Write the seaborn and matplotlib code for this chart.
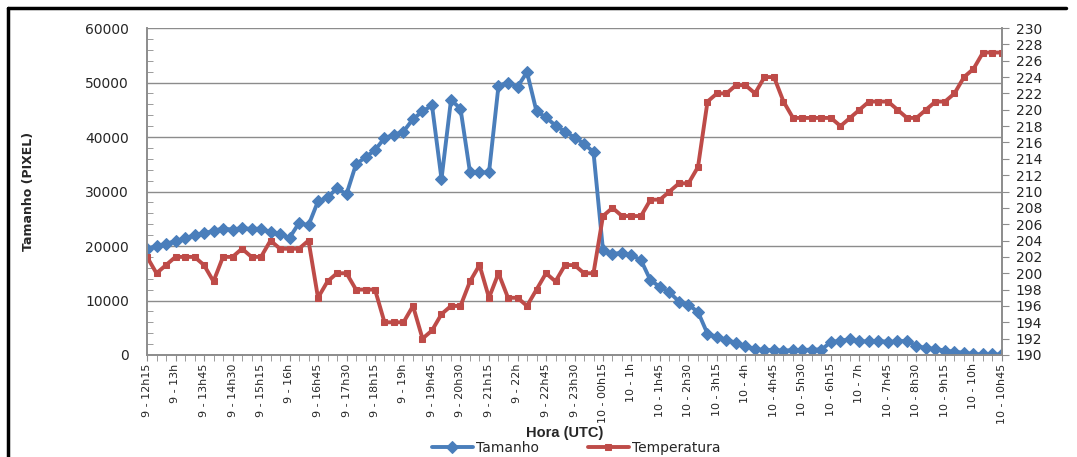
import pandas as pd
import seaborn as sns
import matplotlib.pyplot as plt
import numpy as np
from matplotlib.ticker import MultipleLocator

#data (one point every 15 min, 9-12h15 .. 10-10h45)
tamanho = [19500, 20000, 20400, 20900, 21400, 22000, 22300, 22800, 23200, 23000,
           23300, 23100, 23200, 22500, 22200, 21500, 24200, 23800, 28200, 28900,
           30600, 29500, 35000, 36300, 37600, 39800, 40400, 41000, 43300, 44700,
           45800, 32300, 46800, 45200, 33500, 33500, 33500, 49400, 50000, 49200,
           51900, 44700, 43600, 42100, 41000, 39900, 38800, 37200, 19200, 18500,
           18800, 18300, 17400, 13700, 12500, 11500, 9800, 9200, 7900, 3900,
           3300, 2800, 2200, 1600, 1100, 900, 900, 800, 900, 900,
           1000, 1000, 2400, 2600, 2900, 2500, 2500, 2600, 2400, 2500,
           2600, 1600, 1300, 1100, 800, 600, 400, 200, 100, 100,
           100]
temperatura = [202, 200, 201, 202, 202, 202, 201, 199, 202, 202,
               203, 202, 202, 204, 203, 203, 203, 204, 197, 199,
               200, 200, 198, 198, 198, 194, 194, 194, 196, 192,
               193, 195, 196, 196, 199, 201, 197, 200, 197, 197,
               196, 198, 200, 199, 201, 201, 200, 200, 207, 208,
               207, 207, 207, 209, 209, 210, 211, 211, 213, 221,
               222, 222, 223, 223, 222, 224, 224, 221, 219, 219,
               219, 219, 219, 218, 219, 220, 221, 221, 221, 220,
               219, 219, 220, 221, 221, 222, 224, 225, 227, 227,
               227]
tick_labels = ["9 - 12h15", "9 - 13h", "9 - 13h45", "9 - 14h30", "9 - 15h15", "9 - 16h",
               "9 - 16h45", "9 - 17h30", "9 - 18h15", "9 - 19h", "9 - 19h45", "9 - 20h30",
               "9 - 21h15", "9 - 22h", "9 - 22h45", "9 - 23h30", "10 - 00h15", "10 - 1h",
               "10 - 1h45", "10 - 2h30", "10 - 3h15", "10 - 4h", "10 - 4h45", "10 - 5h30",
               "10 - 6h15", "10 - 7h", "10 - 7h45", "10 - 8h30", "10 - 9h15", "10 - 10h",
               "10 - 10h45"]

df = pd.DataFrame({"pos": np.arange(len(tamanho)), "tamanho": tamanho, "temperatura": temperatura})

blue = "#4a7ebb"
red = "#be4b48"
grid = "#8c8c8c"

sns.set_style("white")
plt.rcParams['font.family'] = ['DejaVu Sans']

fig = plt.figure(figsize=(10.77, 4.57), dpi=100)
ax = fig.add_axes([147/1077, 1-355/457, (1002-147)/1077, (355-28)/457])
ax2 = ax.twinx()

sns.lineplot(data=df, x="pos", y="tamanho", ax=ax, color=blue, linewidth=2.8,
             marker="D", markersize=6, markeredgecolor=blue, label="Tamanho", legend=False)
sns.lineplot(data=df, x="pos", y="temperatura", ax=ax2, color=red, linewidth=2.8,
             marker="s", markersize=4.5, markeredgecolor=red, label="Temperatura", legend=False)

#left axis
ax.set_ylim(0, 60000)
ax.set_yticks(np.arange(0, 60001, 10000))
ax.yaxis.set_minor_locator(MultipleLocator(2000))
ax.grid(axis="y", color=grid, linewidth=1)
ax.set_xlim(0, len(tamanho) - 1)
ax.set_xticks(np.arange(0, len(tamanho), 3))
ax.set_xticklabels(tick_labels, rotation=90, fontsize=8)
ax.xaxis.set_minor_locator(MultipleLocator(1))
ax.tick_params(axis="x", which="both", direction="out", length=4, color=grid, bottom=True, pad=2)
ax.tick_params(axis="y", which="major", labelsize=10, length=0, pad=13)
ax.tick_params(axis="y", which="minor", direction="in", length=4, color=grid, left=True)
ax.set_ylabel("Tamanho (PIXEL)", fontsize=9, fontweight="bold")
ax.yaxis.set_label_coords((35-147)/855, 0.5)
ax.set_xlabel("Hora (UTC)", fontsize=10.5, fontweight="bold", family="Liberation Sans")
ax.xaxis.set_label_coords((565-147)/855, (355-426)/327)

#right axis
ax2.set_ylim(190, 230)
ax2.set_yticks(np.arange(190, 231, 2))
ax2.tick_params(axis="y", direction="out", length=5, color=grid, labelsize=10, pad=5, right=True)
ax2.set_ylabel("")
ax2.grid(False)

for a in (ax, ax2):
    a.spines["top"].set_visible(False)
    for s in ("left", "right", "bottom"):
        a.spines[s].set_color(grid)
        a.spines[s].set_linewidth(1.2)

#legend at the bottom
handles = [ax.get_lines()[0], ax2.get_lines()[0]]
fig.legend(handles, ["Tamanho", "Temperatura"], loc="center", bbox_to_anchor=(576/1077, 1-448/457),
           ncol=2, frameon=False, fontsize=10, handlelength=3, handletextpad=0.2,
           columnspacing=3.5, borderaxespad=0, borderpad=0)

#outer border of the chart
fig.add_artist(plt.Line2D([8/1077, 8/1077], [0, 1-8/457], color="black", linewidth=2.5))
fig.add_artist(plt.Line2D([8/1077, 1066/1077], [1-8/457, 1-8/457], color="black", linewidth=2.5))

plt.savefig("out.png", dpi=100)
